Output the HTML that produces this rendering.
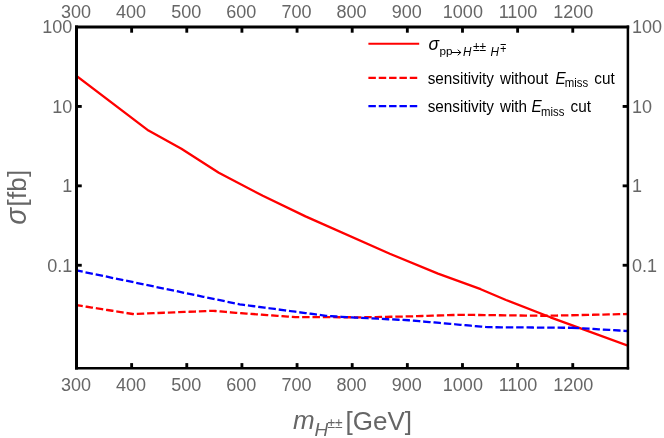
<!DOCTYPE html>
<html><head><meta charset="utf-8"><title>plot</title>
<style>
html,body{margin:0;padding:0;background:#fff;}
body{width:664px;height:438px;overflow:hidden;font-family:"Liberation Sans",sans-serif;}
svg{display:block;will-change:transform;}
text{font-family:"Liberation Sans",sans-serif;}
.tk{font-size:18px;fill:#666666;}
.lg{fill:#000;}
.ax{font-size:26px;fill:#666666;}
</style></head><body>
<svg width="664" height="438" viewBox="0 0 664 438">
<rect x="0" y="0" width="664" height="438" fill="#fff"/>
<defs><clipPath id="c"><rect x="76.5" y="27.0" width="551.4" height="341.2"/></clipPath></defs>
<g clip-path="url(#c)" fill="none" stroke-linejoin="round">
<polyline points="76.5,76.0 148.5,130.6 181.4,148.7 218.8,172.7 262.8,195.8 305.5,216.4 389.8,253.8 438.0,273.6 480.7,289.2 506.0,300.0 550.4,317.3 580.6,328.3 627.9,345.6" stroke="#ff0000" stroke-width="2.3"/>
<polyline points="76.5,305.1 132.8,314.0 213.2,310.8 236.0,312.8 295.3,317.1 362.7,317.3 409.4,316.4 460.2,314.8 545.0,315.8 627.9,314.0" stroke="#ff0000" stroke-width="2.3" stroke-dasharray="5.177 5.177" stroke-linecap="square"/>
<polyline points="76.5,270.4 239.6,304.3 327.5,316.0 355.2,317.6 409.4,320.3 488.0,327.2 572.9,327.8" stroke="#0000ff" stroke-width="2.3" stroke-dasharray="5.18 5.18" stroke-linecap="square"/>
<polyline points="572.9,327.8 627.9,331.0" stroke="#0000ff" stroke-width="2.3" stroke-dasharray="5.18 5.18" stroke-linecap="square"/>
</g>
<g stroke="#000" stroke-width="2.85" fill="none">
<line x1="131.64" y1="27.0" x2="131.64" y2="32.70"/><line x1="131.64" y1="368.2" x2="131.64" y2="363.10"/>
<line x1="186.78" y1="27.0" x2="186.78" y2="32.70"/><line x1="186.78" y1="368.2" x2="186.78" y2="363.10"/>
<line x1="241.92" y1="27.0" x2="241.92" y2="32.70"/><line x1="241.92" y1="368.2" x2="241.92" y2="363.10"/>
<line x1="297.06" y1="27.0" x2="297.06" y2="32.70"/><line x1="297.06" y1="368.2" x2="297.06" y2="363.10"/>
<line x1="352.20" y1="27.0" x2="352.20" y2="32.70"/><line x1="352.20" y1="368.2" x2="352.20" y2="363.10"/>
<line x1="407.34" y1="27.0" x2="407.34" y2="32.70"/><line x1="407.34" y1="368.2" x2="407.34" y2="363.10"/>
<line x1="462.48" y1="27.0" x2="462.48" y2="32.70"/><line x1="462.48" y1="368.2" x2="462.48" y2="363.10"/>
<line x1="517.62" y1="27.0" x2="517.62" y2="32.70"/><line x1="517.62" y1="368.2" x2="517.62" y2="363.10"/>
<line x1="572.76" y1="27.0" x2="572.76" y2="32.70"/><line x1="572.76" y1="368.2" x2="572.76" y2="363.10"/>
<line x1="76.5" y1="106.45" x2="81.75" y2="106.45"/><line x1="627.9" y1="106.45" x2="622.65" y2="106.45"/>
<line x1="76.5" y1="185.85" x2="81.75" y2="185.85"/><line x1="627.9" y1="185.85" x2="622.65" y2="185.85"/>
<line x1="76.5" y1="265.25" x2="81.75" y2="265.25"/><line x1="627.9" y1="265.25" x2="622.65" y2="265.25"/>
<path d="M75 27 H629.2" stroke-width="3.1"/><path d="M76.5 25.45 V369.5" stroke-width="3"/><path d="M627.9 25.45 V369.5" stroke-width="2.5"/><path d="M75 368.25 H629.15" stroke-width="2.6"/>
</g>
<g class="tk">
<text x="75.90" y="18.4" text-anchor="middle">300</text><text x="75.90" y="390.5" text-anchor="middle">300</text>
<text x="131.04" y="18.4" text-anchor="middle">400</text><text x="131.04" y="390.5" text-anchor="middle">400</text>
<text x="186.18" y="18.4" text-anchor="middle">500</text><text x="186.18" y="390.5" text-anchor="middle">500</text>
<text x="241.32" y="18.4" text-anchor="middle">600</text><text x="241.32" y="390.5" text-anchor="middle">600</text>
<text x="296.46" y="18.4" text-anchor="middle">700</text><text x="296.46" y="390.5" text-anchor="middle">700</text>
<text x="351.60" y="18.4" text-anchor="middle">800</text><text x="351.60" y="390.5" text-anchor="middle">800</text>
<text x="406.74" y="18.4" text-anchor="middle">900</text><text x="406.74" y="390.5" text-anchor="middle">900</text>
<text x="462.88" y="18.4" text-anchor="middle">1000</text><text x="462.88" y="390.5" text-anchor="middle">1000</text>
<text x="518.02" y="18.4" text-anchor="middle">1100</text><text x="518.02" y="390.5" text-anchor="middle">1100</text>
<text x="573.16" y="18.4" text-anchor="middle">1200</text><text x="573.16" y="390.5" text-anchor="middle">1200</text>
<text x="72.2" y="33.35" text-anchor="end">100</text><text x="631.9" y="33.35" text-anchor="start">100</text>
<text x="72.2" y="113.10" text-anchor="end">10</text><text x="631.9" y="113.10" text-anchor="start">10</text>
<text x="72.2" y="192.30" text-anchor="end">1</text><text x="631.9" y="192.30" text-anchor="start">1</text>
<text x="72.2" y="272.30" text-anchor="end">0.1</text><text x="631.9" y="272.30" text-anchor="start">0.1</text>
</g>
<g fill="none" stroke-width="2.3">
<line x1="368.4" y1="43.8" x2="419.2" y2="43.8" stroke="#ff0000" stroke-width="2"/>
<line x1="369.55" y1="77.8" x2="416.3" y2="77.8" stroke="#ff0000" stroke-dasharray="5.17 5.17" stroke-linecap="square"/>
<line x1="369.55" y1="106.2" x2="416.3" y2="106.2" stroke="#0000ff" stroke-dasharray="5.17 5.17" stroke-linecap="square"/>
</g>
<g class="lg" font-size="15.3">
<text transform="translate(428.6,50) scale(1,1)" font-size="17.5" font-style="italic">σ</text>
<text transform="translate(439.5,55.4) scale(1,1.0)" font-size="11.7">pp</text>
<path d="M452.4 52.5 H460.7 M458.0 50.0 L460.8 52.5 L458.0 55.0" fill="none" stroke="#000" stroke-width="1" stroke-linecap="round" stroke-linejoin="round"/>
<text transform="translate(463.0,55.6) scale(1,1.06)" font-size="11.7" font-style="italic">H</text>
<text transform="translate(472.9,50.6) scale(1,1.0)" font-size="12">±±</text>
<text transform="translate(490.4,55.6) scale(1,1.06)" font-size="11.7" font-style="italic">H</text>
<text transform="translate(500.3,43.6) scale(1,-1.1)" font-size="10.9">±</text>
<text transform="translate(427.7,83.6) scale(1,1.06)">sensitivity</text>
<text transform="translate(499.9,83.6) scale(1,1.06)">without</text>
<text transform="translate(555.6,83.89999999999999) scale(1,1.06)" font-style="italic">E</text>
<text transform="translate(564.8,87.3) scale(1,1.06)" font-size="11.4">miss</text>
<text transform="translate(594.3,83.89999999999999) scale(1,1.06)">cut</text>
<text transform="translate(427.7,111.9) scale(1,1.06)">sensitivity</text>
<text transform="translate(499.9,111.9) scale(1,1.06)">with</text>
<text transform="translate(531.5,112.2) scale(1,1.06)" font-style="italic">E</text>
<text transform="translate(541.1,115.9) scale(1,1.06)" font-size="11.4">miss</text>
<text transform="translate(570.6,112.2) scale(1,1.06)">cut</text>
</g>
<g class="ax">
<text x="293" y="429"><tspan font-style="italic">m</tspan></text>
<text x="314.4" y="435.8" font-size="19" font-style="italic">H</text>
<text transform="translate(327.5,428.4) scale(1,1.08)" font-size="13.8">±±</text>
<text x="345.6" y="429.6">[GeV]</text>
<text transform="translate(26.0,224.8) rotate(-90) scale(1.07,1.13)" font-style="italic">σ</text>
<text transform="translate(26.0,206.5) rotate(-90)" letter-spacing="0.2">[fb]</text>
</g>
</svg>
</body></html>
